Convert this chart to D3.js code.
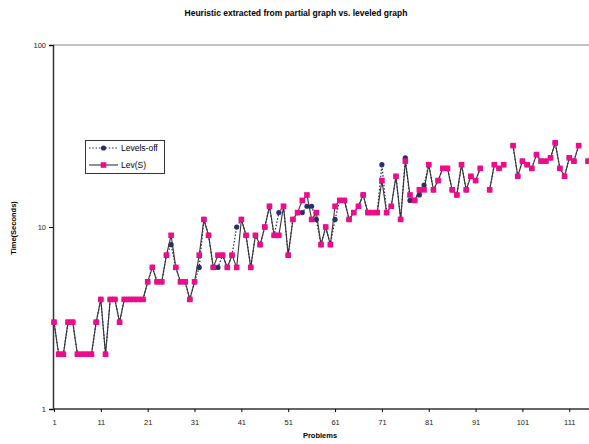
<!DOCTYPE html>
<html><head><meta charset="utf-8">
<script src="https://cdn.jsdelivr.net/npm/d3@7"></script>
<style>body{margin:0;background:#fff}svg{display:block;font-family:"Liberation Sans",Arial,sans-serif}</style>
</head><body><svg id="c" width="589" height="444"></svg>
<script>
const problems = d3.range(1, 116);
const levS = [3,2,2,3,3,2,2,2,2,3, 4,2,4,4,3,4,4,4,4,4, 5,6,5,5,7,9,6,5,5,4, 5,7,11,9,6,7,7,6,7,6, 11,9,6,9,8,10,13,9,9,13, 7,11,12,14,15,11,12,8,10,8, 13,14,14,11,12,13,15,12,12,12, 18,12,13,19,11,23,15,14,16,16, 22,16,18,21,21,16,15,22,16,19, 18,21,null,16,22,21,22,null,28,19, 23,22,21,25,23,23,24,29,21,19, 24,23,28,null,23];
const levelsOff = [3,2,2,3,3,2,2,2,2,3, 4,2,4,4,3,4,4,4,4,4, 5,6,5,5,7,8,6,5,5,4, 5,6,11,9,6,6,7,6,7,10, 11,9,6,9,8,10,13,9,12,13, 7,11,12,12,13,13,11,8,10,8, 11,14,14,11,12,13,15,12,12,12, 22,12,13,19,11,24,14,14,15,17, 22,16,18,21,21,16,15,22,16,19, 18,21,null,16,22,21,22,null,28,19, 23,22,21,25,23,23,24,29,21,19, 24,23,28,null,23];
const xTickLabels = [1,11,21,31,41,51,61,71,81,91,101,111];
const yTickValues = [1,10,100];
const seriesNames = ["Levels-off","Lev(S)"];

const svg = d3.select("#c");
const x = d3.scaleLinear().domain([1,115]).range([54,588]);
const y = d3.scaleLog().domain([1,100]).range([409,45]);

// title
svg.append("text").attr("x",296).attr("y",16).attr("text-anchor","middle")
  .attr("font-size",8.5).attr("font-weight","bold").text("Heuristic extracted from partial graph vs. leveled graph");

// top gridline
svg.append("line").attr("x1",53).attr("x2",589).attr("y1",y(100)).attr("y2",y(100)).attr("stroke","#888").attr("stroke-width",1);

// y axis
const yAxis = d3.axisLeft(y).tickValues(yTickValues).tickSize(4).tickFormat(d3.format("d"));
const gy = svg.append("g").attr("transform","translate(53,0)").call(yAxis);
gy.select(".domain").attr("stroke","#333").attr("stroke-width",1.5);
gy.selectAll("text").attr("font-size",7.5).attr("fill","#222").attr("font-family","Liberation Sans, Arial, sans-serif");

// x axis
const xAxis = d3.axisBottom(x).tickValues(xTickLabels).tickSize(3).tickSizeOuter(0).tickPadding(8).tickFormat(d3.format("d"));
const gx = svg.append("g").attr("transform","translate(0,409)").call(xAxis);
gx.select(".domain").attr("d","M53,0H589").attr("stroke","#333").attr("stroke-width",1.5);
gx.selectAll("text").attr("font-size",7.5).attr("fill","#222").attr("font-family","Liberation Sans, Arial, sans-serif");

// axis titles
svg.append("text").attr("x",320).attr("y",438).attr("text-anchor","middle")
  .attr("font-size",7.5).attr("font-weight","bold").text("Problems");
svg.append("text").attr("transform","translate(16,228) rotate(-90)").attr("text-anchor","middle")
  .attr("font-size",7.5).attr("font-weight","bold").text("Time(Seconds)");

const offData = problems.map((p,i)=>({p, v: levelsOff[i]}));
const sData = problems.map((p,i)=>({p, v: levS[i]}));
const line = d3.line().defined(d=>d.v!=null).x(d=>x(d.p)).y(d=>y(d.v));

// Levels-off
svg.append("path").datum(offData).attr("d",line).attr("fill","none")
  .attr("stroke","#1f1f5e").attr("stroke-width",1.2).attr("stroke-dasharray","1.5,1.8");
svg.append("g").selectAll("circle").data(offData.filter(d=>d.v!=null)).join("circle")
  .attr("cx",d=>x(d.p)).attr("cy",d=>y(d.v)).attr("r",2.6).attr("fill","#2e2e6e");

// Lev(S)
svg.append("path").datum(sData).attr("d",line).attr("fill","none")
  .attr("stroke","#333").attr("stroke-width",1.1);
svg.append("g").selectAll("rect").data(sData.filter(d=>d.v!=null)).join("rect")
  .attr("x",d=>x(d.p)-2.8).attr("y",d=>y(d.v)-2.8).attr("width",5.6).attr("height",5.6).attr("fill","#ee0c8a");

// legend
const lg = svg.append("g");
lg.append("rect").attr("x",85.5).attr("y",140.5).attr("width",79).attr("height",33).attr("fill","#fff").attr("stroke","#333").attr("stroke-width",1);
lg.append("line").attr("x1",89).attr("x2",118).attr("y1",148).attr("y2",148).attr("stroke","#1f1f5e").attr("stroke-width",1.2).attr("stroke-dasharray","1.5,1.8");
lg.append("circle").attr("cx",103.5).attr("cy",148).attr("r",2.6).attr("fill","#2e2e6e");
lg.append("text").attr("x",121).attr("y",151).attr("font-size",8.5).text(seriesNames[0]);
lg.append("line").attr("x1",89).attr("x2",118).attr("y1",165).attr("y2",165).attr("stroke","#333").attr("stroke-width",1.1);
lg.append("rect").attr("x",100.7).attr("y",162.2).attr("width",5.6).attr("height",5.6).attr("fill","#ee0c8a");
lg.append("text").attr("x",121).attr("y",168).attr("font-size",8.5).text(seriesNames[1]);
</script></body></html>
